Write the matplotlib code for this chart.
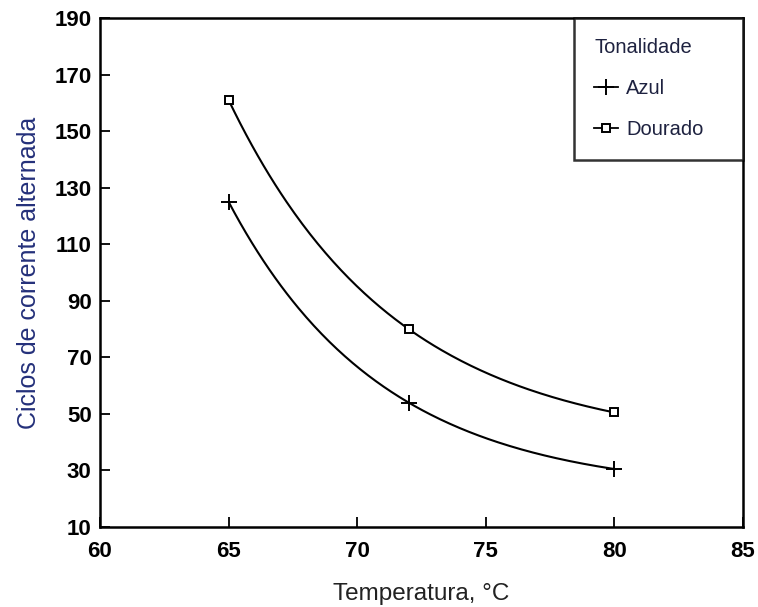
import matplotlib
matplotlib.use("Agg")
import matplotlib.pyplot as plt
import numpy as np

plt.rcParams['font.family'] = ['Liberation Sans', 'DejaVu Sans']

# Data
temperatura = [65, 72, 80]
azul = [125, 54, 30.5]
dourado = [161, 80, 50.5]

ylabel_color = '#24307a'
legend_color = '#1e2240'


def exp_curve(x, y, xs):
    # smooth decay line y = c + a*exp(-k*(x-x0)) passing through the three points
    x = np.asarray(x, float)
    y = np.asarray(y, float)
    d1, d2 = x[1] - x[0], x[2] - x[0]
    r = (y[0] - y[1]) / (y[1] - y[2])
    lo, hi = 1e-6, 5.0
    for _ in range(200):
        k = (lo + hi) / 2
        f = (1 - np.exp(-k * d1)) / (np.exp(-k * d1) - np.exp(-k * d2)) - r
        if f > 0:
            hi = k
        else:
            lo = k
    a = (y[0] - y[1]) / (1 - np.exp(-k * d1))
    c = y[0] - a
    return c + a * np.exp(-k * (xs - x[0]))


fig = plt.figure(figsize=(7.58, 6.07), dpi=100)
ax = fig.add_axes([100 / 758, 1 - 527 / 607, 643 / 758, 509 / 607])

xs = np.linspace(temperatura[0], temperatura[-1], 200)
ax.plot(xs, exp_curve(temperatura, azul, xs), color='black', lw=1.5)
ax.plot(xs, exp_curve(temperatura, dourado, xs), color='black', lw=1.5)
ax.plot(temperatura, azul, ls='none', marker='+', ms=11, mew=1.4, color='black')
ax.plot(temperatura, dourado, ls='none', marker='s', ms=6, mew=1.4,
        mfc='white', mec='black')

# legend handles
ax.plot([], [], color='black', lw=1.3, marker='+', ms=11, mew=1.4, label='Azul')
ax.plot([], [], color='black', lw=1.3, marker='s', ms=5.5, mew=1.4,
        mfc='white', mec='black', label='Dourado')

ax.set_xlim(60, 85)
ax.set_ylim(10, 190)
ax.set_xticks([60, 65, 70, 75, 80, 85])
ax.set_yticks(np.arange(10, 191, 20))
ax.tick_params(direction='in', length=7, width=1.3, labelsize=16)
ax.tick_params(axis='x', pad=10)
ax.tick_params(axis='y', pad=6)
for lab in ax.get_xticklabels() + ax.get_yticklabels():
    lab.set_fontweight('bold')
for s in ax.spines.values():
    s.set_linewidth(1.8)

ax.set_xlabel('Temperatura, °C', fontsize=17.5, color='#222222', labelpad=15)
ax.set_ylabel('Ciclos de corrente alternada', fontsize=18, color=ylabel_color, labelpad=10)

leg = ax.legend(loc='upper right', bbox_to_anchor=(474 / 643, 0.0, 169 / 643, 1.0),
                mode='expand', title='Tonalidade',
                fontsize=14.5, title_fontsize=14.5, frameon=True, fancybox=False,
                edgecolor='black', borderaxespad=0, handlelength=1.2,
                handletextpad=0.4, borderpad=1.0, labelspacing=1.1,
                alignment='left')
leg.get_frame().set_linewidth(1.8)
leg.get_title().set_color(legend_color)
for t in leg.get_texts():
    t.set_color(legend_color)

fig.savefig('out.png', dpi=100)
